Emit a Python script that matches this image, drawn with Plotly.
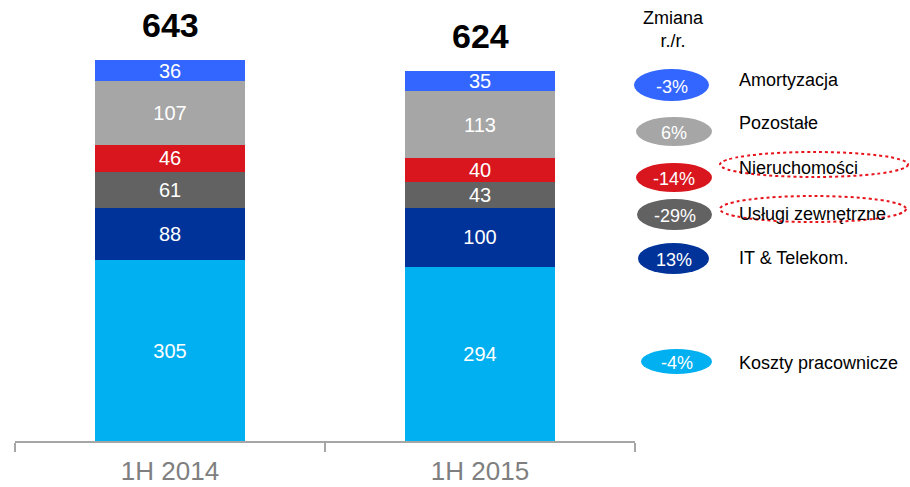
import plotly.graph_objects as go

categories = ["1H 2014", "1H 2015"]
series_names = ["Koszty pracownicze", "IT & Telekom.", "Usługi zewnętrzne",
                "Nieruchomości", "Pozostałe", "Amortyzacja"]
series_values = {
    "Koszty pracownicze": [305, 294],
    "IT & Telekom.": [88, 100],
    "Usługi zewnętrzne": [61, 43],
    "Nieruchomości": [46, 40],
    "Pozostałe": [107, 113],
    "Amortyzacja": [36, 35],
}
totals = [643, 624]
changes = {
    "Amortyzacja": "-3%",
    "Pozostałe": "6%",
    "Nieruchomości": "-14%",
    "Usługi zewnętrzne": "-29%",
    "IT & Telekom.": "13%",
    "Koszty pracownicze": "-4%",
}
colors = {
    "Koszty pracownicze": "#00B0F0",
    "IT & Telekom.": "#003399",
    "Usługi zewnętrzne": "#626262",
    "Nieruchomości": "#D9161E",
    "Pozostałe": "#A6A6A6",
    "Amortyzacja": "#3366FF",
}

FONT = "Arial, Liberation Sans, sans-serif"
W, H = 910, 487
ML, MR, MT, MB = 15, 275, 0, 46
PW, PH = W - ML - MR, H - MT - MB


def px(x):
    return (x - ML) / PW


def py(y):
    return (H - MB - y) / PH


fig = go.Figure()
for name in series_names:
    fig.add_trace(go.Bar(
        x=categories, y=series_values[name], name=name,
        marker=dict(color=colors[name], line=dict(width=0)),
        text=series_values[name], texttemplate="%{text}",
        textposition="inside", insidetextanchor="middle",
        constraintext="none",
        textfont=dict(color="white", size=20, family=FONT),
        showlegend=False, hoverinfo="skip",
    ))

for c, t in zip(categories, totals):
    fig.add_annotation(x=c, y=t, text=f"<b>{t}</b>", showarrow=False,
                       yshift=35, xanchor="center", yanchor="middle",
                       font=dict(size=34, color="black", family=FONT))

# legend header
fig.add_annotation(xref="paper", yref="paper", x=px(673), y=py(29),
                   text="Zmiana<br>r./r.", showarrow=False, align="center",
                   xanchor="center", yanchor="middle",
                   font=dict(size=18, color="black", family=FONT))

# (name, ellipse x0, x1, y0, y1, text y)
legend_rows = [
    ("Amortyzacja", 634, 709, 69, 101, 80),
    ("Pozostałe", 636, 712, 117, 146, 123),
    ("Nieruchomości", 636, 712, 163, 192, 168),
    ("Usługi zewnętrzne", 637, 712, 199, 230, 214),
    ("IT & Telekom.", 638, 709, 243, 274, 258),
    ("Koszty pracownicze", 641, 712, 349, 374, 363),
]
for name, x0, x1, y0, y1, ty in legend_rows:
    fig.add_shape(type="circle", xref="paper", yref="paper",
                  x0=px(x0), x1=px(x1), y0=py(y1), y1=py(y0),
                  fillcolor=colors[name], line=dict(width=0), layer="above")
    fig.add_annotation(xref="paper", yref="paper", x=px((x0 + x1) / 2),
                       y=py((y0 + y1) / 2 + 1.5),
                       text=changes[name], showarrow=False,
                       xanchor="center", yanchor="middle",
                       font=dict(size=18, color="white", family=FONT))
    fig.add_annotation(xref="paper", yref="paper", x=px(737), y=py(ty),
                       text=name, showarrow=False, xanchor="left",
                       yanchor="middle",
                       font=dict(size=18, color="black", family=FONT))

# dotted highlight ellipses
for x0, x1, y0, y1 in [(720, 908, 152, 177), (720, 906, 196, 222)]:
    fig.add_shape(type="circle", xref="paper", yref="paper",
                  x0=px(x0), x1=px(x1), y0=py(y1), y1=py(y0),
                  line=dict(color="#E8141C", width=2, dash="dot"),
                  fillcolor="rgba(0,0,0,0)", layer="above")

fig.update_layout(
    width=W, height=H, barmode="stack", bargap=0.516,
    margin=dict(l=ML, r=MR, t=MT, b=MB, autoexpand=False),
    paper_bgcolor="white", plot_bgcolor="white",
    font=dict(family=FONT),
    xaxis=dict(type="category", showline=True, linecolor="#A6A6A6", linewidth=2,
               ticks="outside", tickson="boundaries", ticklen=9, tickwidth=2,
               tickcolor="#A6A6A6", showgrid=False, zeroline=False,
               tickfont=dict(size=26, color="#7F7F7F", family=FONT),
               ticklabelstandoff=6, automargin=False,
               range=[-0.5, 1.5]),
    yaxis=dict(visible=False, range=[0, PH / (381 / 643)], showgrid=False,
               zeroline=False),
)

fig.write_html("out.html", config={"displayModeBar": False},
               post_script="document.body.style.margin='0px';")
